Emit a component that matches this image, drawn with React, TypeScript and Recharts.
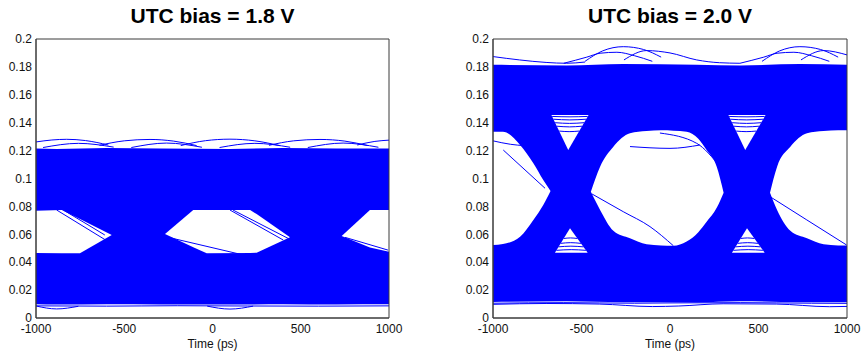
import React from 'react';
import { ComposedChart, Area, Line, XAxis, YAxis } from 'recharts';

const xTicks = [-1000, -500, 0, 500, 1000];
const yTicks = [0, 0.02, 0.04, 0.06, 0.08, 0.1, 0.12, 0.14, 0.16, 0.18, 0.2];

// ---- UTC bias = 1.8 V ----
const bandTime18 = [-1000, -883, -600, -300, 99, 400, 700, 1000];
const bandTop18 = [0.1215, 0.1212, 0.1218, 0.1215, 0.1212, 0.1218, 0.1215, 0.1215];
const bandBottom18 = [0.0098, 0.0096, 0.0099, 0.0097, 0.0096, 0.0099, 0.0097, 0.0098];

const eyeLeftTime18 = [-1000, -854, -751, -571];
const eyeLeftTop18 = [0.0768, 0.0774, 0.0709, 0.0595];
const eyeLeftBottom18 = [0.0466, 0.0464, 0.0464, 0.0595];

const eyeMidTime18 = [-269, -109, -33, 213, 250, 439];
const eyeMidTop18 = [0.0602, 0.0774, 0.0774, 0.0774, 0.0745, 0.0578];
const eyeMidBottom18 = [0.0602, 0.0508, 0.0464, 0.0466, 0.0468, 0.0578];

const eyeRightTime18 = [732, 892, 1000];
const eyeRightTop18 = [0.0588, 0.0774, 0.0774];
const eyeRightBottom18 = [0.0588, 0.0505, 0.0475];

const topArcs18: [number, number][][] = [
  [[-1000, 0.1262], [-910, 0.1276], [-826, 0.1281], [-720, 0.1272], [-590, 0.124]],
  [[-640, 0.1238], [-500, 0.127], [-354, 0.128], [-220, 0.1268], [-90, 0.1236]],
  [[-180, 0.1236], [-40, 0.1271], [99, 0.1282], [240, 0.127], [380, 0.1236]],
  [[320, 0.1238], [460, 0.127], [609, 0.128], [750, 0.1268], [880, 0.1236]],
  [[820, 0.124], [920, 0.1266], [1000, 0.1275]],
  [[-960, 0.1222], [-760, 0.1252], [-560, 0.1225]],
  [[-460, 0.1222], [-260, 0.1254], [-60, 0.1224]],
  [[40, 0.1222], [240, 0.1252], [440, 0.1224]],
  [[540, 0.1222], [740, 0.1254], [940, 0.1224]],
];
const bottomArcs18: [number, number][][] = [
  [[-1000, 0.0086], [-883, 0.0065], [-760, 0.0084]],
  [[-30, 0.0085], [99, 0.0064], [230, 0.0085]],
  [[-1000, 0.0087], [-600, 0.0085], [-200, 0.0088], [200, 0.0086], [600, 0.0085], [1000, 0.0087]],
];
const strays18: [number, number][][] = [
  [[99, 0.0774], [401, 0.0559]],
  [[116, 0.0774], [457, 0.0552]],
  [[-250, 0.0578], [174, 0.0452]],
  [[-883, 0.0774], [-590, 0.0547]],
  [[-845, 0.0774], [-610, 0.0595]],
  [[751, 0.0578], [994, 0.0487]],
];

// ---- UTC bias = 2.0 V ----
const bandTime20 = [-1000, -584, -264, 151, 395, 734, 1000];
const bandTop20 = [0.1815, 0.181, 0.182, 0.1815, 0.181, 0.182, 0.1815];
const bandBottom20 = [0.0115, 0.012, 0.0113, 0.0112, 0.012, 0.0113, 0.0113];

const eyeLeftTime20 = [-1000, -944, -847, -772, -716, -675];
const eyeLeftTop20 = [0.1336, 0.1336, 0.124, 0.1109, 0.0989, 0.091];
const eyeLeftBottom20 = [0.0523, 0.053, 0.0583, 0.0703, 0.081, 0.091];

const eyeMidTime20 = [-447, -395, -320, -226, -132, -50, 19, 94, 160, 207, 264, 303];
const eyeMidTop20 = [0.0905, 0.1085, 0.1228, 0.1324, 0.134, 0.1345, 0.1343, 0.1336, 0.1285, 0.1204, 0.1085, 0.0898];
const eyeMidBottom20 = [0.0905, 0.0775, 0.0625, 0.0571, 0.0528, 0.052, 0.0518, 0.0548, 0.0615, 0.069, 0.079, 0.0898];

const eyeRightTime20 = [565, 605, 680, 774, 868, 950, 1000];
const eyeRightTop20 = [0.0898, 0.1085, 0.1228, 0.1324, 0.134, 0.1345, 0.1345];
const eyeRightBottom20 = [0.0898, 0.0775, 0.0625, 0.0571, 0.0528, 0.052, 0.052];

const triUpTimeA20 = [-670, -575, -460];
const triUpTimeB20 = [330, 425, 540];
const triUpLow20 = [0.1455, 0.1205, 0.1455];
const triUpHigh20 = [0.1455, 0.1455, 0.1455];
const triDownTimeA20 = [-650, -565, -465];
const triDownTimeB20 = [350, 435, 535];
const triDownLow20 = [0.0468, 0.0468, 0.0468];
const triDownHigh20 = [0.0468, 0.0643, 0.0468];

const topArcs20: [number, number][][] = [
  [[-1000, 0.1874], [-850, 0.185], [-700, 0.1832], [-584, 0.1826], [-480, 0.1835]],
  [[-600, 0.1826], [-470, 0.187], [-395, 0.1898], [-300, 0.1905], [-200, 0.188], [-100, 0.184]],
  [[-480, 0.184], [-380, 0.1915], [-264, 0.1945], [-150, 0.1925], [-50, 0.187]],
  [[-260, 0.185], [-132, 0.1917], [0, 0.19], [151, 0.185], [280, 0.183], [395, 0.1826]],
  [[395, 0.1826], [530, 0.187], [605, 0.1898], [700, 0.1905], [800, 0.188], [900, 0.184]],
  [[520, 0.184], [620, 0.1915], [734, 0.1945], [850, 0.1925], [950, 0.187]],
  [[740, 0.185], [868, 0.1917], [1000, 0.1886]],
];
const bottomArcs20: [number, number][][] = [
  [[-1000, 0.0098], [-700, 0.0104], [-400, 0.01], [-100, 0.0082], [50, 0.0086], [300, 0.0102], [600, 0.01], [900, 0.0081], [1000, 0.0083]],
  [[-1000, 0.0106], [-600, 0.011], [-200, 0.0106], [0, 0.0108], [400, 0.011], [800, 0.0106], [1000, 0.0105]],
];
const triLines20: [number, number][][] = [
  [[-666, 0.1445], [-565, 0.1442], [-465, 0.1445]],
  [[-659, 0.1425], [-566, 0.142], [-474, 0.1425]],
  [[-649, 0.14], [-567, 0.1395], [-485, 0.14]],
  [[-640, 0.1375], [-568, 0.137], [-497, 0.1375]],
  [[-626, 0.134], [-570, 0.1336], [-513, 0.134]],
  [[-642, 0.0485], [-558, 0.049], [-475, 0.0485]],
  [[-630, 0.051], [-560, 0.0515], [-489, 0.051]],
  [[-618, 0.0535], [-561, 0.054], [-503, 0.0535]],
  [[-601, 0.057], [-562, 0.0574], [-523, 0.057]],
  [[334, 0.1445], [435, 0.1442], [535, 0.1445]],
  [[341, 0.1425], [434, 0.142], [526, 0.1425]],
  [[351, 0.14], [433, 0.1395], [515, 0.14]],
  [[360, 0.1375], [432, 0.137], [503, 0.1375]],
  [[374, 0.134], [430, 0.1336], [487, 0.134]],
  [[358, 0.0485], [442, 0.049], [525, 0.0485]],
  [[370, 0.051], [440, 0.0515], [511, 0.051]],
  [[382, 0.0535], [439, 0.054], [497, 0.0535]],
  [[399, 0.057], [438, 0.0574], [477, 0.057]],
];
const strays20: [number, number][][] = [
  [[-442, 0.089], [-264, 0.0762], [-113, 0.0655], [19, 0.0518]],
  [[-226, 0.1229], [0, 0.1216], [169, 0.124]],
  [[-57, 0.1326], [151, 0.1252], [282, 0.1085]],
  [[565, 0.087], [773, 0.0703], [998, 0.0523]],
  [[-942, 0.1204], [-706, 0.093]],
  [[-1000, 0.127], [-900, 0.1245], [-820, 0.1235]],
];

// ---- rendering ----
const BLUE = '#0000ff';
const AXIS = '#3a3a3a';
const FONT = '"Liberation Sans", Arial, sans-serif';

type Curve = 'linear' | 'monotone';

interface Region {
  time: number[];
  low: number[];
  high: number[];
  curve?: Curve;
}

const rangeRows = (r: Region) => r.time.map((t, i) => ({ t, r: [r.low[i], r.high[i]] }));
const traceRows = (pts: [number, number][]) => pts.map(([t, v]) => ({ t, v }));

interface PanelProps {
  title: string;
  left: number;
  width: number;
  marginRight: number;
  band: Region;
  holes: Region[];
  traces: [number, number][][];
}

function Panel({ title, left, width, marginRight, band, holes, traces }: PanelProps) {
  const plotW = width - 36 - marginRight;
  const tickStyle = { fill: '#111', fontSize: 12, fontFamily: FONT };
  return (
    <div style={{ position: 'absolute', left, top: 0, width, height: 354 }}>
      <div
        style={{
          position: 'absolute',
          left: 36,
          top: 4,
          width: plotW,
          textAlign: 'center',
          fontFamily: FONT,
          fontSize: 21,
          fontWeight: 'bold',
          color: '#000',
          whiteSpace: 'nowrap',
        }}
      >
        {title}
      </div>
      <ComposedChart width={width} height={354} margin={{ top: 39, right: marginRight, bottom: 0, left: 0 }}>
        <XAxis
          xAxisId="x"
          dataKey="t"
          type="number"
          domain={[-1000, 1000]}
          ticks={xTicks}
          allowDataOverflow
          height={36}
          tickLine={false}
          tickSize={0}
          tickMargin={6}
          stroke={AXIS}
          tick={tickStyle}
          label={{ value: 'Time (ps)', position: 'insideBottom', offset: 6, fill: '#111', fontSize: 12, fontFamily: FONT }}
        />
        <XAxis xAxisId="xb" dataKey="t" type="number" domain={[-1000, 1000]} ticks={xTicks} allowDataOverflow mirror tick={false} tickSize={4} stroke={AXIS} />
        <XAxis xAxisId="xt" orientation="top" dataKey="t" type="number" domain={[-1000, 1000]} ticks={xTicks} allowDataOverflow mirror tick={false} tickSize={4} stroke={AXIS} />
        <YAxis
          yAxisId="y"
          type="number"
          domain={[0, 0.2]}
          ticks={yTicks}
          allowDataOverflow
          width={36}
          tickLine={false}
          tickSize={0}
          tickMargin={4}
          stroke={AXIS}
          tick={tickStyle}
        />
        <YAxis yAxisId="yl" type="number" domain={[0, 0.2]} ticks={yTicks} allowDataOverflow mirror tick={false} tickSize={4} stroke={AXIS} />
        <YAxis yAxisId="yr" orientation="right" type="number" domain={[0, 0.2]} ticks={yTicks} allowDataOverflow mirror tick={false} tickSize={4} stroke={AXIS} />

        <Area
          xAxisId="x"
          yAxisId="y"
          data={rangeRows(band)}
          dataKey="r"
          type="monotone"
          fill={BLUE}
          fillOpacity={1}
          stroke="none"
          activeDot={false}
          isAnimationActive={false}
        />
        {holes.map((h, i) => (
          <Area
            key={'hole' + i}
            xAxisId="x"
            yAxisId="y"
            data={rangeRows(h)}
            dataKey="r"
            type={h.curve || 'linear'}
            fill="#ffffff"
            fillOpacity={1}
            stroke="none"
            activeDot={false}
            isAnimationActive={false}
          />
        ))}
        {traces.map((tr, i) => (
          <Line
            key={'trace' + i}
            xAxisId="x"
            yAxisId="y"
            data={traceRows(tr)}
            dataKey="v"
            type="monotone"
            stroke={BLUE}
            strokeWidth={1}
            dot={false}
            activeDot={false}
            isAnimationActive={false}
          />
        ))}
      </ComposedChart>
    </div>
  );
}

export default function App() {
  return (
    <div style={{ position: 'fixed', left: 0, top: 0, width: 863, height: 354, background: '#fff' }}>
      <Panel
        title="UTC bias = 1.8 V"
        left={0}
        width={430}
        marginRight={41}
        band={{ time: bandTime18, low: bandBottom18, high: bandTop18 }}
        holes={[
          { time: eyeLeftTime18, low: eyeLeftBottom18, high: eyeLeftTop18 },
          { time: eyeMidTime18, low: eyeMidBottom18, high: eyeMidTop18 },
          { time: eyeRightTime18, low: eyeRightBottom18, high: eyeRightTop18 },
        ]}
        traces={[...topArcs18, ...bottomArcs18, ...strays18]}
      />
      <Panel
        title="UTC bias = 2.0 V"
        left={457}
        width={406}
        marginRight={16}
        band={{ time: bandTime20, low: bandBottom20, high: bandTop20 }}
        holes={[
          { time: eyeLeftTime20, low: eyeLeftBottom20, high: eyeLeftTop20, curve: 'monotone' },
          { time: eyeMidTime20, low: eyeMidBottom20, high: eyeMidTop20, curve: 'monotone' },
          { time: eyeRightTime20, low: eyeRightBottom20, high: eyeRightTop20, curve: 'monotone' },
          { time: triUpTimeA20, low: triUpLow20, high: triUpHigh20 },
          { time: triUpTimeB20, low: triUpLow20, high: triUpHigh20 },
          { time: triDownTimeA20, low: triDownLow20, high: triDownHigh20 },
          { time: triDownTimeB20, low: triDownLow20, high: triDownHigh20 },
        ]}
        traces={[...topArcs20, ...bottomArcs20, ...triLines20, ...strays20]}
      />
    </div>
  );
}
